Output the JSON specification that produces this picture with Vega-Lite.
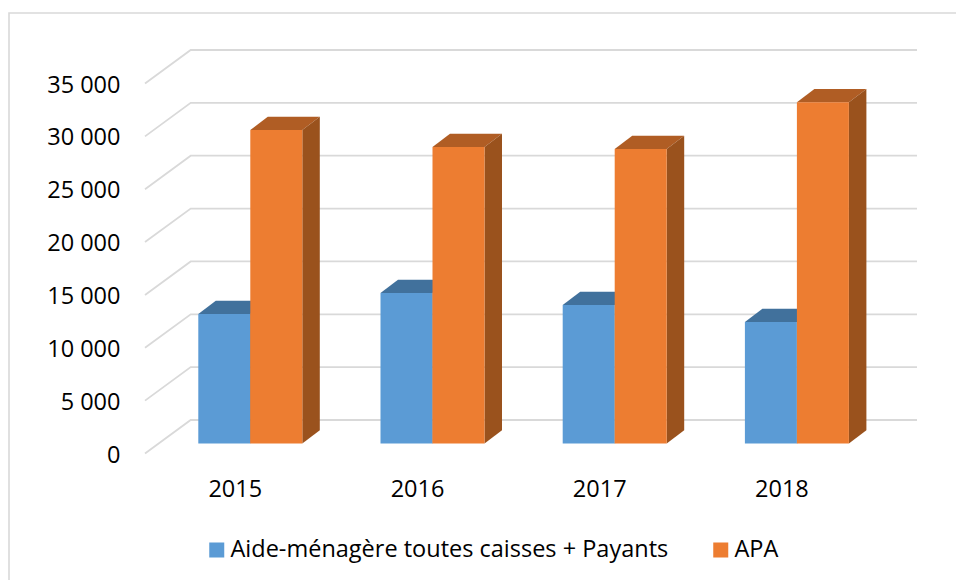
{
  "$schema": "https://vega.github.io/schema/vega-lite/v6.json",
  "width": 948,
  "height": 568,
  "autosize": {"type": "none"},
  "padding": {"left": 9, "top": 13, "right": 0, "bottom": 0},
  "background": "white",
  "view": {"stroke": "#d9d9d9", "strokeWidth": 1.6, "fill": "white"},
  "config": {"font": "Open Sans"},
  "datasets": {
    "bars": [
      {"year": "2015", "series": "Aide-ménagère toutes caisses + Payants", "v": 12250},
      {"year": "2015", "series": "APA", "v": 29650},
      {"year": "2016", "series": "Aide-ménagère toutes caisses + Payants", "v": 14240},
      {"year": "2016", "series": "APA", "v": 28050},
      {"year": "2017", "series": "Aide-ménagère toutes caisses + Payants", "v": 13100},
      {"year": "2017", "series": "APA", "v": 27860},
      {"year": "2018", "series": "Aide-ménagère toutes caisses + Payants", "v": 11490},
      {"year": "2018", "series": "APA", "v": 32280}
    ],
    "ticks": [{"t": 0}, {"t": 5000}, {"t": 10000}, {"t": 15000}, {"t": 20000}, {"t": 25000}, {"t": 30000}, {"t": 35000}]
  },
  "layer": [
    {
      "data": {"name": "ticks"},
      "mark": {
        "type": "point",
        "filled": false,
        "opacity": 1,
        "size": 4,
        "stroke": "#d9d9d9",
        "strokeWidth": 1.8,
        "shape": "M-105.3,10 L-59.6,-23.5 L666.7,-23.5"
      },
      "encoding": {
        "x": {
          "datum": "2015",
          "type": "nominal",
          "sort": null,
          "scale": {"domain": ["2015", "2016", "2017", "2018"], "range": [150.2, 879], "paddingInner": 0, "paddingOuter": 0, "round": false},
          "axis": {
            "orient": "bottom",
            "title": null,
            "offset": -110,
            "domain": false,
            "ticks": false,
            "grid": false,
            "labelAngle": 0,
            "labelFontSize": 23.5,
            "labelColor": "#000000",
            "labelOffset": -15,
            "labelPadding": 6
          }
        },
        "y": {
          "field": "t",
          "type": "quantitative",
          "scale": {"domain": [0, 35000], "range": [430.5, 60.5], "nice": false},
          "axis": {
            "orient": "left",
            "title": null,
            "offset": -115,
            "values": [0, 5000, 10000, 15000, 20000, 25000, 30000, 35000],
            "domain": false,
            "ticks": false,
            "grid": false,
            "labelFontSize": 23.5,
            "labelColor": "#000000",
            "labelPadding": 4,
            "labelOffset": 11.5,
            "labelExpr": "replace(format(datum.value, ','), ',', ' ')"
          }
        }
      }
    },
    {
      "data": {"name": "bars"},
      "mark": {
        "type": "point",
        "filled": true,
        "opacity": 1,
        "size": 4,
        "strokeWidth": 0,
        "fill": {"expr": "datum.series === 'APA' ? '#b05d24' : '#41719c'"},
        "shape": "M-26,0 L-8.5,-13.3 L43.5,-13.3 L26,0 Z"
      },
      "encoding": {
        "x": {"field": "year", "type": "nominal"},
        "xOffset": {"field": "series", "type": "nominal", "sort": null, "scale": {"domain": ["Aide-ménagère toutes caisses + Payants", "APA"], "paddingInner": 0, "paddingOuter": 0.7519}},
        "y": {"field": "v", "type": "quantitative"}
      }
    },
    {
      "data": {"name": "bars"},
      "mark": {
        "type": "point",
        "filled": true,
        "opacity": 1,
        "size": 4,
        "strokeWidth": 0,
        "fill": "#9a521d",
        "shape": {"expr": "'M26,0 L43.5,-13.3 L43.5,' + (datum.v * 370 / 35000 - 13.3) + ' L26,' + (datum.v * 370 / 35000) + ' Z'"}
      },
      "encoding": {
        "x": {"field": "year", "type": "nominal"},
        "xOffset": {"field": "series", "type": "nominal", "sort": null},
        "y": {"field": "v", "type": "quantitative"}
      }
    },
    {
      "data": {"name": "bars"},
      "mark": {"type": "bar", "width": 52},
      "encoding": {
        "x": {"field": "year", "type": "nominal"},
        "xOffset": {"field": "series", "type": "nominal", "sort": null},
        "y": {"field": "v", "type": "quantitative"},
        "y2": {"datum": 0},
        "color": {
          "field": "series",
          "type": "nominal",
          "sort": null,
          "scale": {"domain": ["Aide-ménagère toutes caisses + Payants", "APA"], "range": ["#5b9bd5", "#ed7d31"]},
          "legend": {
            "orient": "none",
            "legendX": 196,
            "legendY": 522,
            "direction": "horizontal",
            "columns": 2,
            "title": null,
            "symbolType": "square",
            "symbolSize": 225,
            "symbolStrokeWidth": 0,
            "symbolOpacity": 1,
            "labelFontSize": 23.5,
            "labelColor": "#000000",
            "labelLimit": 600,
            "labelOffset": 2,
            "columnPadding": 40,
            "clipHeight": 30
          }
        }
      }
    }
  ]
}
